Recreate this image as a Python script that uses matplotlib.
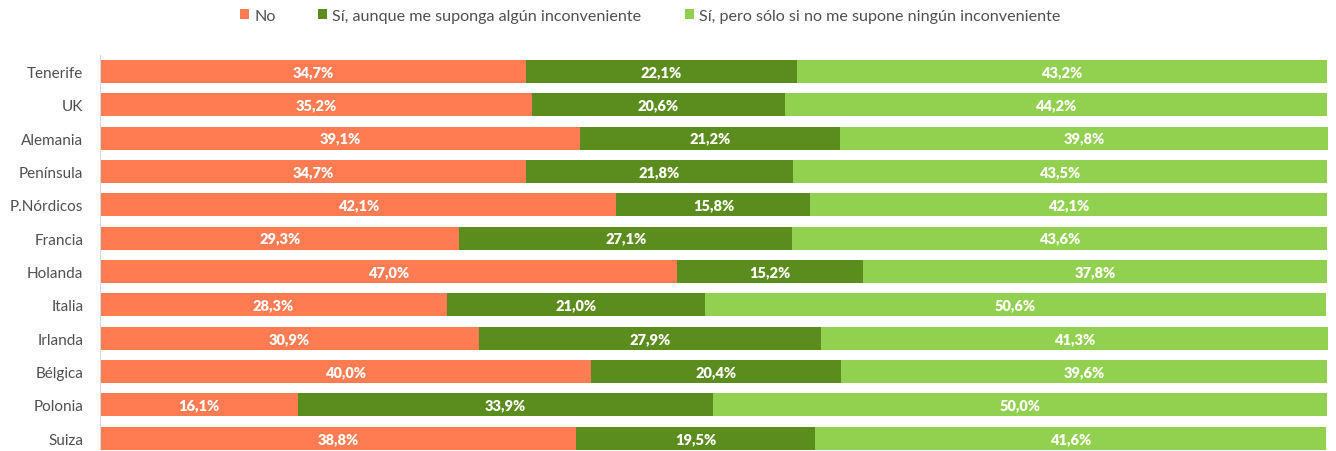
import matplotlib
matplotlib.use("Agg")
import matplotlib.pyplot as plt
import numpy as np

plt.rcParams['font.family'] = ['Lato', 'DejaVu Sans']

categories = ["Tenerife", "UK", "Alemania", "Península", "P.Nórdicos", "Francia",
              "Holanda", "Italia", "Irlanda", "Bélgica", "Polonia", "Suiza"]
series_names = ["No", "Sí, aunque me suponga algún inconveniente",
                "Sí, pero sólo si no me supone ningún inconveniente"]
no_vals = [34.7, 35.2, 39.1, 34.7, 42.1, 29.3, 47.0, 28.3, 30.9, 40.0, 16.1, 38.8]
si_aunque = [22.1, 20.6, 21.2, 21.8, 15.8, 27.1, 15.2, 21.0, 27.9, 20.4, 33.9, 19.5]
si_pero = [43.2, 44.2, 39.8, 43.5, 42.1, 43.6, 37.8, 50.6, 41.3, 39.6, 50.0, 41.6]
colors = ["#FF7B52", "#5B8C1E", "#92D050"]

W, H = 1336, 452
fig = plt.figure(figsize=(W / 100, H / 100), dpi=100)
ax = fig.add_axes([100 / W, 0, 1228 / W, (452 - 55.8) / H])

y = np.arange(len(categories))
left = np.zeros(len(categories))
for vals, name, c in zip([no_vals, si_aunque, si_pero], series_names, colors):
    v = np.array(vals)
    ax.barh(y, v, left=left, height=0.69, color=c, label=name)
    for yi, l, w in zip(y, left, v):
        ax.text(l + w / 2, yi, f"{w:.1f}%".replace(".", ","), ha="center", va="center",
                color="white", fontsize=10.5, fontweight="heavy")
    left = left + v

ax.set_xlim(0, left.max())
ax.set_ylim(11.5 - 4 / 33.4, -0.5)
ax.set_yticks(y)
ax.set_yticklabels(categories, fontsize=11, color="#505050")
ax.tick_params(axis="y", length=0, pad=12)
ax.set_xticks([])
for s in ["top", "right", "bottom"]:
    ax.spines[s].set_visible(False)
ax.spines["left"].set_color("#D9D9D9")

handles, labels = ax.get_legend_handles_labels()
fig.legend(handles, labels, loc="center", bbox_to_anchor=(650 / W, 1 - 17 / H), ncol=3,
           frameon=False, fontsize=11.6, handlelength=0.56, handleheight=0.56,
           handletextpad=0.31, columnspacing=2.67, labelcolor="#505050",
           borderpad=0, borderaxespad=0)

fig.savefig("out.png", dpi=100)
